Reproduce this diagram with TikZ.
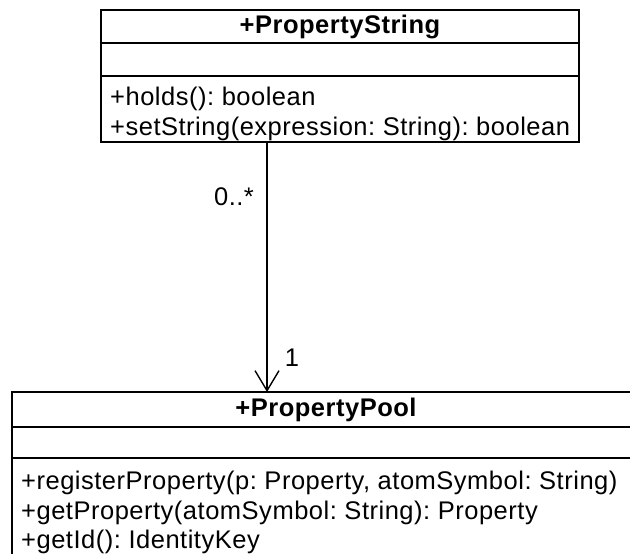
\documentclass[tikz,border=0pt]{standalone}
\usepackage{fontspec}
\setmainfont{Liberation Sans}[LetterSpace=2]
\usetikzlibrary{positioning,arrows.meta}
\frenchspacing

\begin{document}
\begin{tikzpicture}[
      x=1pt, y=-1pt,
      node distance=0pt,
      every node/.style={font=\fontsize{25.5}{29.5}\selectfont},
      compart/.style={draw, line width=1.4pt, outer sep=0pt, inner sep=0pt},
      headpart/.style={compart, align=center, font=\bfseries\fontsize{25.5}{29.5}\selectfont},
      opstext/.style={inner sep=0pt, align=left, anchor=north west},
      assoc/.style={line width=1.4pt, -{Straight Barb[length=20pt, width=24pt, line width=1.4pt]}}
    ]
      \clip (0,0) rectangle (630,554);
      % PropertyString
      \node[headpart, anchor=north west, minimum width=478pt, minimum height=33pt] (strHead) at (101,10) {+PropertyString};
      \node[compart, below=of strHead, minimum width=478pt, minimum height=33pt] (strAttr) {};
      \node[compart, below=of strAttr, minimum width=478pt, minimum height=66pt] (strOps) {};
      \node[opstext, below right=11pt and 9pt of strAttr.south west] (strOpsText) {+holds(): boolean\\+setString(expression: String): boolean};
      % PropertyPool
      \node[headpart, anchor=north west, minimum width=628pt, minimum height=35pt] (poolHead) at (12,392) {+PropertyPool};
      \node[compart, below=of poolHead, minimum width=628pt, minimum height=31pt] (poolAttr) {};
      \node[compart, below=of poolAttr, minimum width=628pt, minimum height=104pt] (poolOps) {};
      \node[opstext, below right=13pt and 9pt of poolAttr.south west] (poolOpsText) {+registerProperty(p: Property, atomSymbol: String)\\+getProperty(atomSymbol: String): Property\\+getId(): IdentityKey};
      % association
      \coordinate (assocStart) at ([xshift=166pt]strOps.south west);
      \draw[assoc] (assocStart) -- (assocStart |- poolHead.north);
      \node (multMany) at (234,197) {0..*};
      \node (multOne) at (292,358) {1};
    \end{tikzpicture}
\end{document}
